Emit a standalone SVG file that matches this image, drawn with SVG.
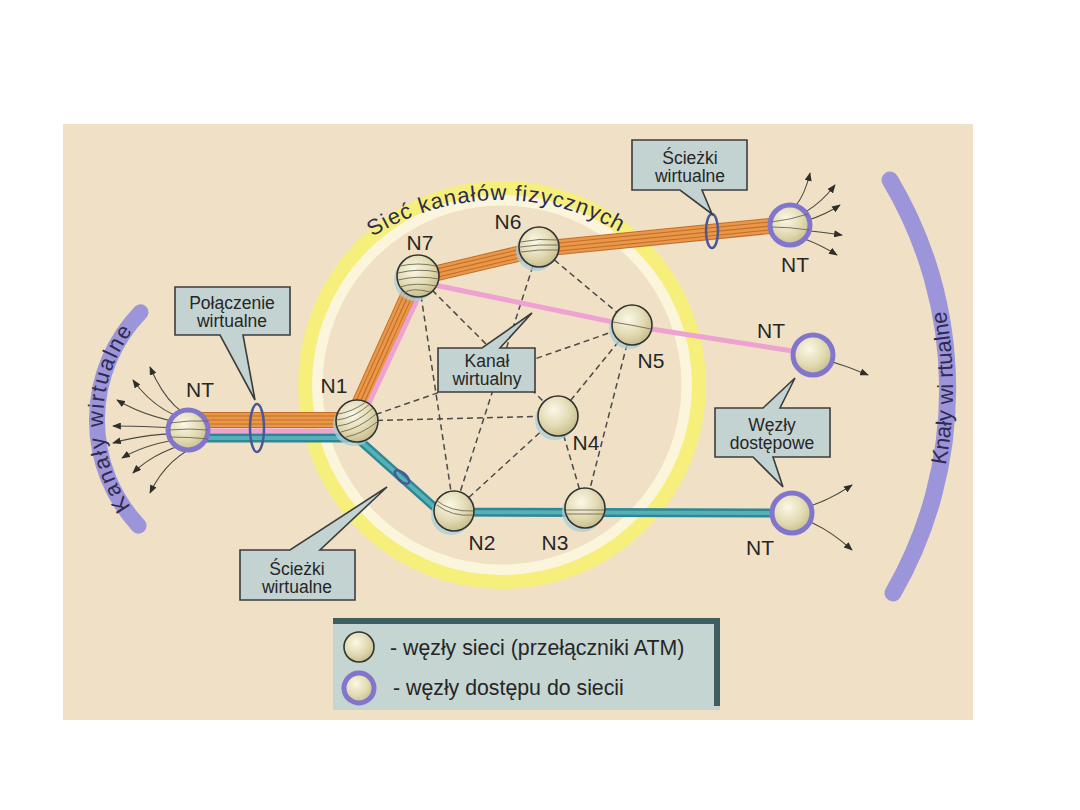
<svg xmlns="http://www.w3.org/2000/svg" width="1080" height="810" viewBox="0 0 1080 810">
<defs>
<style>
.lbl{font-family:"Liberation Sans",Arial,sans-serif;fill:#262626;}
.nl{font-size:21px;text-anchor:middle;}
.co{font-size:17.5px;text-anchor:middle;}
.box{fill:#c3d3d2;stroke:#3d3d3d;stroke-width:1.6;stroke-linejoin:miter;}
.dash{stroke:#4a4a4a;stroke-width:1.5;stroke-dasharray:6 4;fill:none;}
.node{fill:url(#sph);stroke:#333;stroke-width:1.6;}
.nt{fill:url(#sph);stroke:#8276cc;stroke-width:5;}
.shadow{fill:#a9cfd7;opacity:0.75;}
.tex{fill:none;stroke:#6d6a58;stroke-width:0.9;}
.fan{fill:none;stroke:#4a4a40;stroke-width:1.1;marker-end:url(#arr);}
.loop{fill:none;stroke:#4a5898;stroke-width:2.5;}
.arcband{fill:none;stroke:#9d95d9;stroke-linecap:round;}
.arctext{font-family:"Liberation Sans",Arial,sans-serif;font-size:22px;fill:#2e2a50;}
</style>
<radialGradient id="sph" cx="0.4" cy="0.35" r="0.7">
<stop offset="0" stop-color="#fbf8e6"/>
<stop offset="0.6" stop-color="#e0d9b0"/>
<stop offset="1" stop-color="#c4ba88"/>
</radialGradient>
<marker id="arr" viewBox="0 0 10 8" markerWidth="9" markerHeight="7" refX="9" refY="4" orient="auto" markerUnits="userSpaceOnUse">
<path d="M0,0 L10,4 L0,8 z" fill="#2e2e2a"/>
</marker>
<path id="ringText" d="M 316 286 A 240 240 0 0 1 684 286"/>
<path id="leftText" d="M 166.5 542 A 149 149 0 0 1 168.7 296.5"/>
<path id="rightText" d="M 856.1 654.1 A 414 414 0 0 0 856.1 121.9"/>
</defs>

<rect x="0" y="0" width="1080" height="810" fill="#ffffff"/>
<rect x="63" y="124" width="910" height="596" fill="#f0e1c6"/>

<!-- physical network ring -->
<g id="ring">
<circle cx="502" cy="385" r="185" fill="none" stroke="#fbf5dc" stroke-width="11"/>
<circle cx="502" cy="385" r="197" fill="none" stroke="#f6ef7c" stroke-width="14"/>
<text class="arctext" letter-spacing="1"><textPath href="#ringText" startOffset="49%" text-anchor="middle">Sieć kanałów fizycznych</textPath></text>
</g>

<!-- purple virtual channel arcs -->
<g id="arc-left">
<path class="arcband" stroke-width="16" d="M 138.6 525.7 A 155 155 0 0 1 140.5 312.3"/>
<text class="arctext" textLength="188" lengthAdjust="spacing"><textPath href="#leftText" startOffset="50%" text-anchor="middle">Kanały wirtualne</textPath></text>
</g>
<g id="arc-right">
<path class="arcband" stroke-width="17" d="M 890 180 A 408 408 0 0 1 893 593"/>
<text class="arctext"><textPath href="#rightText" startOffset="50%" text-anchor="middle">Knały wi rtualne</textPath></text>
</g>

<!-- connectors -->
<g id="connectors">
<g id="dashed">
<line class="dash" x1="418" y1="276" x2="454" y2="511"/>
<line class="dash" x1="418" y1="276" x2="558" y2="416"/>
<line class="dash" x1="539" y1="247" x2="632" y2="325"/>
<line class="dash" x1="539" y1="247" x2="454" y2="511"/>
<line class="dash" x1="357" y1="421" x2="632" y2="325"/>
<line class="dash" x1="357" y1="421" x2="558" y2="416"/>
<line class="dash" x1="454" y1="511" x2="558" y2="416"/>
<line class="dash" x1="558" y1="416" x2="632" y2="325"/>
<line class="dash" x1="632" y1="325" x2="585" y2="508"/>
<line class="dash" x1="558" y1="416" x2="585" y2="508"/>
</g>
<g id="orange-path" fill="none" stroke-linejoin="round">
<path d="M 188 420 L 352 420 L 416 278 L 539 249 L 790 224" stroke="#c06e2c" stroke-width="16"/>
<path d="M 188 420 L 352 420 L 416 278 L 539 249 L 790 224" stroke="#ea9748" stroke-width="14"/>
<path d="M 188 420 L 352 420 L 416 278 L 539 249 L 790 224" stroke="#c06e2c" stroke-width="9"/>
<path d="M 188 420 L 352 420 L 416 278 L 539 249 L 790 224" stroke="#ea9748" stroke-width="7"/>
<path d="M 188 420 L 352 420 L 416 278 L 539 249 L 790 224" stroke="#c06e2c" stroke-width="1.2"/>
</g>
<path id="pink-path" d="M 188 431 L 356 431 L 425 283 L 632 326 L 812 354" fill="none" stroke="#eea2d2" stroke-width="5" stroke-linejoin="round"/>
<g id="teal-path" fill="none" stroke-linejoin="round">
<path d="M 188 438 L 357 438 L 440 512 L 792 513" stroke="#2f8793" stroke-width="9"/>
<path d="M 188 438 L 357 438 L 440 512 L 792 513" stroke="#55b1b9" stroke-width="4"/>
</g>
<ellipse class="loop" cx="257" cy="428" rx="7" ry="24"/>
<ellipse class="loop" cx="712" cy="231" rx="6" ry="17"/>
<ellipse class="loop" cx="402" cy="477" rx="4" ry="9" transform="rotate(-48 402 477)"/>
<g id="fans">
<path class="fan" d="M 206 421 Q 172 418 150 367"/>
<path class="fan" d="M 206 424 Q 160 418 133 380"/>
<path class="fan" d="M 206 427 Q 150 420 117 400"/>
<path class="fan" d="M 206 430 Q 150 426 113 426"/>
<path class="fan" d="M 206 433 Q 150 432 113 443"/>
<path class="fan" d="M 206 436 Q 152 440 122 458"/>
<path class="fan" d="M 206 439 Q 158 448 133 473"/>
<path class="fan" d="M 206 442 Q 168 455 150 493"/>
<path class="fan" d="M 772 219 Q 800 216 810 173"/>
<path class="fan" d="M 772 222 Q 808 220 835 185"/>
<path class="fan" d="M 772 225 Q 810 225 840 205"/>
<path class="fan" d="M 772 228 Q 810 230 842 235"/>
<path class="fan" d="M 772 231 Q 805 235 837 255"/>
<path class="fan" d="M 794 353 Q 828 358 868 375"/>
<path class="fan" d="M 774 512 Q 812 512 852 485"/>
<path class="fan" d="M 774 514 Q 812 514 852 550"/>
</g>
</g>

<!-- callouts -->
<g id="callout-polaczenie">
<path class="box" d="M175,287 H290 V335 H243 L255,400 L220,335 H175 Z"/>
<text class="lbl co" x="232" y="309">Połączenie</text>
<text class="lbl co" x="232" y="327">wirtualne</text>
</g>
<g id="callout-sciezki-top">
<path class="box" d="M632,140 H747 V190 H702 L712,214 L680,190 H632 Z"/>
<text class="lbl co" x="690" y="164">Ścieżki</text>
<text class="lbl co" x="690" y="182">wirtualne</text>
</g>
<g id="callout-kanal">
<path class="box" d="M438,348 H482 L532,313 L500,348 H535 V392 H438 Z"/>
<text class="lbl co" x="487" y="367">Kanał</text>
<text class="lbl co" x="487" y="385">wirtualny</text>
</g>
<g id="callout-wezly">
<path class="box" d="M715,408 H763 L795,378 L780,408 H830 V457 H773 L783,487 L753,457 H715 Z"/>
<text class="lbl co" x="772" y="431">Węzły</text>
<text class="lbl co" x="772" y="449">dostępowe</text>
</g>
<g id="callout-sciezki-bottom">
<path class="box" d="M240,550 H290 L387,487 L320,550 H355 V600 H240 Z"/>
<text class="lbl co" x="297" y="575">Ścieżki</text>
<text class="lbl co" x="297" y="593">wirtualne</text>
</g>

<!-- network nodes -->
<g id="N1">
<circle class="shadow" cx="354" cy="425" r="21"/>
<circle class="node" cx="357" cy="421" r="21"/>
<path class="tex" d="M338 414 Q352 412 366 402 M337 420 Q354 418 370 404 M338 426 Q356 424 373 408 M341 432 Q360 428 376 414 M346 437 Q362 434 377 422"/>
<text class="lbl nl" x="334" y="393">N1</text>
</g>
<g id="N7">
<circle class="shadow" cx="415" cy="280" r="21"/>
<circle class="node" cx="418" cy="276" r="21"/>
<path class="tex" d="M400 266 Q418 262 436 266 M398 273 Q418 268 438 272 M398 280 Q418 275 439 279 M400 287 Q414 282 437 286 M404 293 Q412 287 430 292"/>
<text class="lbl nl" x="420" y="250">N7</text>
</g>
<g id="N6">
<circle class="shadow" cx="536" cy="251" r="20"/>
<circle class="node" cx="539" cy="247" r="20"/>
<path class="tex" d="M520 242 Q539 238 558 240 M520 247 Q539 244 559 245 M521 252 Q539 249 558 250"/>
<text class="lbl nl" x="508" y="229">N6</text>
</g>
<g id="N5">
<circle class="shadow" cx="629" cy="329" r="20"/>
<circle class="node" cx="632" cy="325" r="20"/>
<path class="tex" d="M613 322 Q632 325 651 329"/>
<text class="lbl nl" x="651" y="368">N5</text>
</g>
<g id="N4">
<circle class="shadow" cx="555" cy="420" r="20"/>
<circle class="node" cx="558" cy="416" r="20"/>
<text class="lbl nl" x="586" y="450">N4</text>
</g>
<g id="N2">
<circle class="shadow" cx="451" cy="515" r="20"/>
<circle class="node" cx="454" cy="511" r="20"/>
<path class="tex" d="M436 500 Q450 512 473 511 M437 505 Q452 517 473 515"/>
<text class="lbl nl" x="482" y="550">N2</text>
</g>
<g id="N3">
<circle class="shadow" cx="582" cy="512" r="20"/>
<circle class="node" cx="585" cy="508" r="20"/>
<path class="tex" d="M566 510 L604 510 M566 514 L604 514"/>
<text class="lbl nl" x="555" y="550">N3</text>
</g>

<!-- access nodes -->
<g id="NT-left">
<circle class="nt" cx="188" cy="430" r="20"/>
<path class="tex" d="M170 423 Q190 420 208 421 M169 430 Q190 428 208 430 M170 437 Q190 437 208 439"/>
<text class="lbl nl" x="200" y="397" font-size="22">NT</text>
</g>
<g id="NT-top">
<circle class="nt" cx="790" cy="225" r="20"/>
<path class="tex" d="M771 222 Q790 220 808 214 M771 227 Q790 227 809 230"/>
<text class="lbl nl" x="795" y="272" font-size="22">NT</text>
</g>
<g id="NT-mid">
<circle class="nt" cx="813" cy="355" r="20"/>
<text class="lbl nl" x="771" y="338" font-size="22">NT</text>
</g>
<g id="NT-bottom">
<circle class="nt" cx="792" cy="513" r="20"/>
<text class="lbl nl" x="760" y="555" font-size="22">NT</text>
</g>

<!-- legend -->
<g id="legend">
<rect x="333" y="620" width="387" height="90" fill="#c5d5d1"/>
<line x1="333" y1="621" x2="720" y2="621" stroke="#3f5e62" stroke-width="6"/>
<line x1="717" y1="618" x2="717" y2="706" stroke="#3f5e62" stroke-width="6"/>
<circle class="node" cx="359" cy="647" r="15"/>
<text class="lbl" x="390" y="655" font-size="21.3">- węzły sieci (przełączniki ATM)</text>
<circle class="nt" cx="359" cy="688" r="15" stroke-width="3.5"/>
<text class="lbl" x="393" y="695" font-size="21.3">- węzły dostępu do siecii</text>
</g>
</svg>
